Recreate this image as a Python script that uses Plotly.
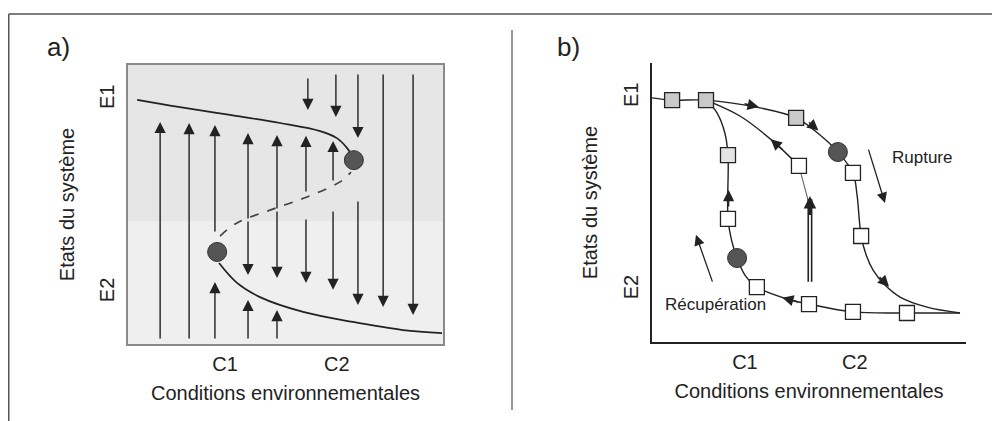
import plotly.graph_objects as go

# ---------------- Panel a: bifurcation diagram ----------------
a_upper_x = [0.29, 1.65, 3.24, 4.83, 6.10, 6.63, 6.95, 7.14]
a_upper_y = [8.75, 8.49, 8.21, 7.92, 7.63, 7.38, 7.03, 6.70]

a_dash_x = [2.92, 3.46, 4.51, 5.68, 6.73, 7.08]
a_dash_y = [3.87, 4.34, 4.80, 5.27, 5.81, 6.16]

a_lower_x = [2.89, 3.46, 4.19, 5.56, 7.14, 8.73, 9.97]
a_lower_y = [2.90, 2.19, 1.68, 1.15, 0.79, 0.50, 0.39]

a_fold_x = [2.83, 7.17]
a_fold_y = [3.30, 6.59]

# vertical arrows: x position, tail y, tip y
a_arrow_x = [1.02, 1.94, 2.76, 3.81, 4.73, 5.65, 6.51,
             2.76, 3.81, 4.73,
             3.81, 4.73, 5.65, 6.51, 7.30, 8.10, 9.05,
             5.71, 6.60, 7.30]
a_arrow_from = [0.14, 0.14, 3.98, 4.44, 4.80, 5.41, 5.81,
                0.14, 0.14, 0.14,
                4.44, 4.80, 4.52, 4.80, 5.16, 9.71, 9.71,
                9.57, 9.71, 9.71]
a_arrow_to = [7.96, 7.92, 7.85, 7.56, 7.49, 7.46, 7.28,
              2.22, 1.58, 1.22,
              2.47, 2.37, 2.19, 1.94, 1.40, 1.33, 1.04,
              8.39, 8.14, 7.38]

a_xticks = [3.08, 6.63]
a_xlabels = ["C1", "C2"]
a_yticks = [8.75, 1.83]
a_ylabels = ["E1", "E2"]

# ---------------- Panel b: hysteresis ----------------
b_rupture_x = [0.0, 0.64, 1.72, 3.44, 4.59, 5.35, 5.92, 6.40, 6.53, 6.66, 6.82, 7.04, 7.42, 7.90, 8.76, 9.81]
b_rupture_y = [8.75, 8.67, 8.67, 8.39, 8.03, 7.42, 6.81, 6.06, 5.27, 3.80, 3.12, 2.58, 2.04, 1.61, 1.25, 1.04]

b_recov_x = [9.81, 8.12, 6.40, 5.00, 4.30, 3.34, 2.96, 2.71, 2.55, 2.42, 2.42, 2.32, 2.07, 1.72]
b_recov_y = [1.04, 1.04, 1.08, 1.36, 1.54, 1.97, 2.40, 3.01, 3.58, 4.41, 6.70, 7.49, 8.21, 8.67]

b_mid_x = [1.72, 2.80, 3.85, 4.68]
b_mid_y = [8.67, 8.10, 7.20, 6.31]
b_mid2_x = [4.68, 4.84, 4.97]
b_mid2_y = [6.31, 5.63, 5.09]

b_sq_gray_x = [0.64, 1.72, 4.59]
b_sq_gray_y = [8.67, 8.67, 8.03]
b_sq_light_x = [2.42]
b_sq_light_y = [6.70]
b_sq_white_x = [4.68, 6.40, 2.42, 6.66, 3.34, 5.00, 6.40, 8.12]
b_sq_white_y = [6.31, 6.06, 4.41, 3.80, 1.97, 1.36, 1.08, 1.04]

b_circle_x = [5.92, 2.71]
b_circle_y = [6.81, 3.01]

# flow arrowheads on the curves: tail (x, y) -> tip (x, y)
b_head_tail_x = [2.90, 4.95, 7.20, 4.70, 2.44, 4.20]
b_head_tail_y = [8.55, 7.92, 2.38, 1.42, 4.80, 6.85]
b_head_tip_x = [3.40, 5.30, 7.55, 4.15, 2.44, 3.78]
b_head_tip_y = [8.42, 7.58, 1.98, 1.59, 5.45, 7.27]

b_xticks = [2.96, 6.46]
b_xlabels = ["C1", "C2"]
b_yticks = [8.75, 1.86]
b_ylabels = ["E1", "E2"]

INK = "#222222"
FONT = "Liberation Sans, Arial, Helvetica, sans-serif"

# page has an 8px body margin: convert window pixels to paper coords
W, H, OFF = 992, 413, 8


def X(px):
    return (px - OFF) / W


def Y(py):
    return 1 - (py - OFF) / H


fig = go.Figure()

# panel a curves
fig.add_trace(go.Scatter(x=a_upper_x, y=a_upper_y, mode="lines", line=dict(color=INK, width=1.7, shape="spline"),
                         xaxis="x", yaxis="y", hoverinfo="skip"))
fig.add_trace(go.Scatter(x=a_dash_x, y=a_dash_y, mode="lines", line=dict(color="#444", width=1.7, dash="dash", shape="spline"),
                         xaxis="x", yaxis="y", hoverinfo="skip"))
fig.add_trace(go.Scatter(x=a_lower_x, y=a_lower_y, mode="lines", line=dict(color=INK, width=1.7, shape="spline"),
                         xaxis="x", yaxis="y", hoverinfo="skip"))
fig.add_trace(go.Scatter(x=a_fold_x, y=a_fold_y, mode="markers",
                         marker=dict(size=19, color="#555555", line=dict(color="#333", width=1)),
                         xaxis="x", yaxis="y", hoverinfo="skip"))

# panel b curves
fig.add_trace(go.Scatter(x=b_rupture_x, y=b_rupture_y, mode="lines", line=dict(color=INK, width=1.4, shape="spline"),
                         xaxis="x2", yaxis="y2", hoverinfo="skip"))
fig.add_trace(go.Scatter(x=b_recov_x, y=b_recov_y, mode="lines", line=dict(color=INK, width=1.4, shape="spline"),
                         xaxis="x2", yaxis="y2", hoverinfo="skip"))
fig.add_trace(go.Scatter(x=b_mid_x, y=b_mid_y, mode="lines", line=dict(color=INK, width=1.4, shape="spline"),
                         xaxis="x2", yaxis="y2", hoverinfo="skip"))
fig.add_trace(go.Scatter(x=b_mid2_x, y=b_mid2_y, mode="lines", line=dict(color="#666", width=1.1, shape="spline"),
                         xaxis="x2", yaxis="y2", hoverinfo="skip"))
sq = dict(symbol="square", size=15, line=dict(color=INK, width=1.3))
fig.add_trace(go.Scatter(x=b_sq_gray_x, y=b_sq_gray_y, mode="markers", marker=dict(color="#c9c9c9", **sq),
                         xaxis="x2", yaxis="y2", hoverinfo="skip"))
fig.add_trace(go.Scatter(x=b_sq_light_x, y=b_sq_light_y, mode="markers", marker=dict(color="#e4e4e4", **sq),
                         xaxis="x2", yaxis="y2", hoverinfo="skip"))
fig.add_trace(go.Scatter(x=b_sq_white_x, y=b_sq_white_y, mode="markers", marker=dict(color="white", **sq),
                         xaxis="x2", yaxis="y2", hoverinfo="skip"))
fig.add_trace(go.Scatter(x=b_circle_x, y=b_circle_y, mode="markers",
                         marker=dict(size=19, color="#555555", line=dict(color="#333", width=1)),
                         xaxis="x2", yaxis="y2", hoverinfo="skip"))

ann = []
for x, y0, y1 in zip(a_arrow_x, a_arrow_from, a_arrow_to):
    ann.append(dict(x=x, y=y1, ax=x, ay=y0, xref="x", yref="y", axref="x", ayref="y", text="",
                    showarrow=True, arrowhead=2, arrowsize=1.6, arrowwidth=1.4, arrowcolor=INK, standoff=0))
for tx, ty, hx, hy in zip(b_head_tail_x, b_head_tail_y, b_head_tip_x, b_head_tip_y):
    ann.append(dict(x=hx, y=hy, ax=tx, ay=ty, xref="x2", yref="y2", axref="x2", ayref="y2", text="",
                    showarrow=True, arrowhead=2, arrowsize=1.6, arrowwidth=1.4, arrowcolor=INK, standoff=0))
# Rupture and Récupération arrows
ann.append(dict(x=7.42, y=4.98, ax=6.88, ay=6.95, xref="x2", yref="y2", axref="x2", ayref="y2", text="",
                showarrow=True, arrowhead=2, arrowsize=1.6, arrowwidth=1.3, arrowcolor=INK, standoff=0))
ann.append(dict(x=1.40, y=3.84, ax=1.94, ay=2.11, xref="x2", yref="y2", axref="x2", ayref="y2", text="",
                showarrow=True, arrowhead=2, arrowsize=1.6, arrowwidth=1.3, arrowcolor=INK, standoff=0))
# double-line arrow
ann.append(dict(x=5.03, y=5.23, ax=5.03, ay=2.11, xref="x2", yref="y2", axref="x2", ayref="y2", text="",
                showarrow=True, arrowhead=2, arrowsize=0.5, arrowwidth=5, arrowcolor=INK, standoff=0))
ann.append(dict(x=5.03, y=4.55, ax=5.03, ay=2.05, xref="x2", yref="y2", axref="x2", ayref="y2", text="",
                showarrow=True, arrowhead=0, arrowwidth=1.8, arrowcolor="white", standoff=0))
# texts
ann.append(dict(x=8.60, y=6.63, xref="x2", yref="y2", text="Rupture", showarrow=False,
                font=dict(size=17, color=INK, family=FONT)))
ann.append(dict(x=2.01, y=1.33, xref="x2", yref="y2", text="Récupération", showarrow=False,
                font=dict(size=17, color=INK, family=FONT)))
ann.append(dict(x=X(58), y=Y(47), xref="paper", yref="paper", text="a)", showarrow=False,
                xanchor="center", yanchor="middle", font=dict(size=26, color=INK, family=FONT)))
ann.append(dict(x=X(568), y=Y(47), xref="paper", yref="paper", text="b)", showarrow=False,
                xanchor="center", yanchor="middle", font=dict(size=26, color=INK, family=FONT)))

shapes = [
    dict(type="rect", xref="x domain", yref="y domain", x0=0, x1=1, y0=0, y1=1, layer="below",
         fillcolor="#e6e6e6", line=dict(width=0)),
    dict(type="rect", xref="x domain", yref="y domain", x0=0, x1=1, y0=0, y1=0.44, layer="below",
         fillcolor="#efefef", line=dict(width=0)),
    dict(type="line", xref="paper", yref="paper", x0=X(8.75), x1=1, y0=Y(14), y1=Y(14),
         line=dict(color="#555", width=1.5)),
    dict(type="line", xref="paper", yref="paper", x0=X(8.75), x1=X(8.75), y0=Y(14), y1=0,
         line=dict(color="#555", width=1.5)),
    dict(type="line", xref="paper", yref="paper", x0=X(512), x1=X(512), y0=Y(30), y1=Y(410),
         line=dict(color="#777", width=1.5)),
]

axis_common = dict(range=[0, 10], showgrid=False, zeroline=False, fixedrange=True,
                   ticks="outside", tickcolor="rgba(0,0,0,0)",
                   tickfont=dict(size=20, color=INK, family=FONT))
title_font = dict(size=20, color=INK, family=FONT)

fig.update_layout(
    width=W, height=H, margin=dict(l=0, r=0, t=0, b=0),
    paper_bgcolor="white", plot_bgcolor="rgba(0,0,0,0)", showlegend=False,
    font=dict(family=FONT, size=20, color=INK),
    xaxis=dict(domain=[X(128), X(443)], anchor="y", tickvals=a_xticks, ticktext=a_xlabels, ticklen=1,
               showline=True, linecolor="#8a8a8a", linewidth=1.5, mirror=True,
               title=dict(text="Conditions environnementales", standoff=12, font=title_font), **axis_common),
    yaxis=dict(domain=[Y(344), Y(65)], anchor="x", tickvals=a_yticks, ticktext=a_ylabels,
               tickangle=-90, ticklen=4, showline=True, linecolor="#8a8a8a", linewidth=1.5, mirror=True,
               title=dict(text="Etats du système", standoff=16, font=title_font), **axis_common),
    xaxis2=dict(domain=[X(652), X(966)], anchor="y2", tickvals=b_xticks, ticktext=b_xlabels, ticklen=1,
                showline=True, linecolor=INK, linewidth=1.5,
                title=dict(text="Conditions environnementales", standoff=12, font=title_font), **axis_common),
    yaxis2=dict(domain=[Y(342), Y(63)], anchor="x2", tickvals=b_yticks, ticktext=b_ylabels,
                tickangle=-90, ticklen=4, showline=True, linecolor=INK, linewidth=1.5,
                title=dict(text="Etats du système", standoff=17, font=title_font), **axis_common),
    annotations=ann, shapes=shapes,
)

fig.write_html("out.html")
